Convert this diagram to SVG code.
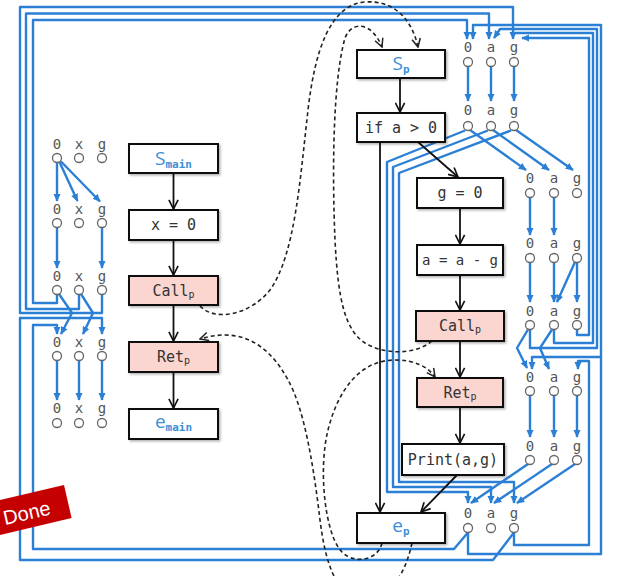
<svg xmlns="http://www.w3.org/2000/svg" width="630" height="576" viewBox="0 0 630 576">
<defs>
<style>
.box{fill:#fff;stroke:#111;stroke-width:2}
.pink{fill:#fbd6d1;stroke:#111;stroke-width:2}
.code{font-family:"DejaVu Sans Mono","Liberation Mono",monospace;font-size:15px;fill:#333;text-anchor:middle}
.sub{font-size:10px}
.big{font-family:"Open Sans","Liberation Sans",sans-serif;font-size:19px;fill:#3b8fd6;text-anchor:middle}
.bsub{font-family:"DejaVu Sans Mono",monospace;font-size:11px;font-weight:bold;fill:#3b8fd6}
.fl{font-family:"DejaVu Sans Mono","Liberation Mono",monospace;font-size:14px;fill:#555;text-anchor:middle}
.fc{fill:#fff;stroke:#666;stroke-width:1.3}
.bl{fill:none;stroke:#2b80d6;stroke-width:2.4;stroke-linejoin:round}
.ba{marker-end:url(#ab)}
.k{fill:none;stroke:#111;stroke-width:1.8;marker-end:url(#ak)}
.dash{fill:none;stroke:#222;stroke-width:1.6;stroke-dasharray:4 3;marker-end:url(#ad)}
</style>
<marker id="ab" viewBox="0 0 10 10" refX="9" refY="5" markerWidth="8" markerHeight="8" markerUnits="userSpaceOnUse" orient="auto"><path d="M0,0.5 L10,5 L0,9.5 z" fill="#2b80d6"/></marker>
<marker id="ak" viewBox="0 0 12 12" refX="11" refY="6" markerWidth="11" markerHeight="11" markerUnits="userSpaceOnUse" orient="auto"><path d="M1,1 L11,6 L1,11" fill="none" stroke="#111" stroke-width="1.8"/></marker>
<marker id="ad" viewBox="0 0 12 12" refX="11" refY="6" markerWidth="10" markerHeight="10" markerUnits="userSpaceOnUse" orient="auto"><path d="M1,1 L11,6 L1,11" fill="none" stroke="#222" stroke-width="1.8"/></marker>
<filter id="sh" x="-10%" y="-20%" width="130%" height="150%"><feDropShadow dx="1.5" dy="1.5" stdDeviation="1" flood-color="#000" flood-opacity="0.3"/></filter>
</defs>
<rect width="630" height="576" fill="#fff"/>

<g id="connectors">
<!-- main blue fact edges -->
<path class="bl ba" d="M57,162.5 V201"/>
<path class="bl ba" d="M59.5,162 L77.5,201"/>
<path class="bl ba" d="M61,161.5 L100,201.5"/>
<path class="bl ba" d="M57,227.5 V268"/>
<path class="bl ba" d="M102,227.5 V268"/>
<path class="bl ba" d="M57,294.5 V303 H33 V20 H467 V39"/>
<path class="bl ba" d="M79,294.5 V309 H26 V13.5 H489 V39"/>
<path class="bl ba" d="M102,294.5 V313 H20 V7 H513 V39"/>
<path class="bl ba" d="M59,294 L72,313 L61,334"/>
<path class="bl ba" d="M81,294 L93,313 L83,334"/>
<path class="bl ba" d="M468,532.5 L454,549 H33 V325 H57 V334"/>
<path class="bl ba" d="M514,532.5 L493,560 H20 V318 H102 V334"/>
<path class="bl ba" d="M57,360.5 V400"/>
<path class="bl ba" d="M79,360.5 V400"/>
<path class="bl ba" d="M102,360.5 V400"/>
<!-- p blue fact edges -->
<path class="bl ba" d="M468,66.5 V101"/>
<path class="bl ba" d="M491,66.5 V101"/>
<path class="bl ba" d="M514,66.5 V101"/>
<path class="bl ba" d="M470,130 L526,170"/>
<path class="bl ba" d="M493,130 L549,170"/>
<path class="bl ba" d="M516,130 L573,170"/>
<path class="bl ba" d="M465,130.5 L387,162 V492 H468 V503"/>
<path class="bl ba" d="M488,130.5 L393,167 V487 H491 V503"/>
<path class="bl ba" d="M511,130.5 L399,173 V482 H514 V503"/>
<path class="bl ba" d="M530,197.5 V235"/>
<path class="bl ba" d="M554,197.5 V235"/>
<path class="bl ba" d="M530,262.5 V302"/>
<path class="bl ba" d="M554,262.5 V302"/>
<path class="bl ba" d="M577,262.5 V302"/>
<path class="bl ba" d="M575,262 L557,302"/>
<path class="bl ba" d="M528,329.5 L517,348 L527,368"/>
<path class="bl ba" d="M552,329.5 L540,348 L549,369"/>
<path class="bl ba" d="M530,329.5 V348 H597 V29 H500 L494,38"/>
<path class="bl" d="M554,329.5 V343 H593 V33 H514"/>
<path class="bl ba" d="M577,329.5 V335 H589 V38 H522"/>
<path class="bl ba" d="M468,532.5 V554 H601 V25 H473 V39"/>
<path class="bl ba" d="M601,357 H532 V369"/>
<path class="bl ba" d="M514,532.5 V545 H589 V361 H578 V369"/>
<path class="bl ba" d="M530,395.5 V437"/>
<path class="bl ba" d="M554,395.5 V437"/>
<path class="bl ba" d="M577,395.5 V437"/>
<path class="bl ba" d="M528,464 L471,503"/>
<path class="bl ba" d="M552,464 L494,503"/>
<path class="bl ba" d="M575,464 L517,503"/>
<!-- black control-flow edges -->
<path class="k" d="M173.5,173 V209"/>
<path class="k" d="M173.5,240 V275"/>
<path class="k" d="M173.5,305 V341"/>
<path class="k" d="M173.5,372 V408"/>
<path class="k" d="M400,78 V112"/>
<path class="k" d="M418,142 L458,177"/>
<path class="k" d="M380,142 V512"/>
<path class="k" d="M460,208 V244"/>
<path class="k" d="M460,275 V310"/>
<path class="k" d="M460,341 V377"/>
<path class="k" d="M460,407 V443"/>
<path class="k" d="M457,475 L421,512"/>
<!-- dashed interprocedural edges -->
<path class="dash" d="M200,306 C215,322 250,315 270,290 C295,255 300,180 308,110 C315,50 330,5 365,2 C395,0 412,20 418,47"/>
<path class="dash" d="M432,341 C415,355 385,355 365,343 C345,330 338,300 335,240 C332,170 333,80 345,38 C352,20 372,22 382,47"/>
<path class="dash" d="M382,543 C378,560 355,565 342,552 C325,535 318,470 328,430 C338,390 360,360 395,360 C415,360 428,367 435,377"/>
<path class="dash" d="M412,543 C405,575 390,600 360,598 C335,595 325,560 320,520 C314,470 305,410 288,380 C272,350 245,325 200,339"/>
</g>

<g id="smain"><rect class="box" filter="url(#sh)" x="129" y="144" width="89" height="29"/><text class="big" x="173.5" y="165">S<tspan class="bsub" dy="3">main</tspan></text></g>
<g id="x0"><rect class="box" filter="url(#sh)" x="129" y="210" width="89" height="30"/><text class="code" x="173.5" y="230">x = 0</text></g>
<g id="callmain"><rect class="pink" filter="url(#sh)" x="129" y="276" width="89" height="29"/><text class="code" x="173.5" y="295.5">Call<tspan class="sub" dy="2">p</tspan></text></g>
<g id="retmain"><rect class="pink" filter="url(#sh)" x="129" y="342" width="89" height="30"/><text class="code" x="173.5" y="362">Ret<tspan class="sub" dy="2">p</tspan></text></g>
<g id="emain"><rect class="box" filter="url(#sh)" x="129" y="409" width="89" height="30"/><text class="big" x="173.5" y="428">e<tspan class="bsub" dy="3">main</tspan></text></g>

<g id="sp"><rect class="box" filter="url(#sh)" x="357" y="50" width="88" height="28"/><text class="big" x="401" y="70">S<tspan class="bsub" dy="3">p</tspan></text></g>
<g id="ifa"><rect class="box" filter="url(#sh)" x="357" y="113" width="88" height="29"/><text class="code" x="401" y="132.5">if a &gt; 0</text></g>
<g id="g0"><rect class="box" filter="url(#sh)" x="417" y="178" width="86" height="30"/><text class="code" x="460" y="198">g = 0</text></g>
<g id="aag"><rect class="box" filter="url(#sh)" x="417" y="245" width="86" height="30"/><text class="code" x="460" y="265" style="font-size:14px">a = a - g</text></g>
<g id="callp"><rect class="pink" filter="url(#sh)" x="416" y="311" width="88" height="30"/><text class="code" x="460" y="331">Call<tspan class="sub" dy="2">p</tspan></text></g>
<g id="retp"><rect class="pink" filter="url(#sh)" x="417" y="378" width="86" height="29"/><text class="code" x="460" y="397.5">Ret<tspan class="sub" dy="2">p</tspan></text></g>
<g id="print"><rect class="box" filter="url(#sh)" x="402" y="444" width="102" height="31"/><text class="code" x="453" y="464.5">Print(a,g)</text></g>
<g id="ep"><rect class="box" filter="url(#sh)" x="357" y="513" width="88" height="30"/><text class="big" x="401" y="532">e<tspan class="bsub" dy="3">p</tspan></text></g>

<g id="facts-main">
<g><text class="fl" x="57" y="148.5">0</text><text class="fl" x="79" y="148.5">x</text><text class="fl" x="102" y="148.5">g</text><circle class="fc" cx="57" cy="158" r="4.5"/><circle class="fc" cx="79" cy="158" r="4.5"/><circle class="fc" cx="102" cy="158" r="4.5"/></g>
<g><text class="fl" x="57" y="213.5">0</text><text class="fl" x="79" y="213.5">x</text><text class="fl" x="102" y="213.5">g</text><circle class="fc" cx="57" cy="223" r="4.5"/><circle class="fc" cx="79" cy="223" r="4.5"/><circle class="fc" cx="102" cy="223" r="4.5"/></g>
<g><text class="fl" x="57" y="280.5">0</text><text class="fl" x="79" y="280.5">x</text><text class="fl" x="102" y="280.5">g</text><circle class="fc" cx="57" cy="290" r="4.5"/><circle class="fc" cx="79" cy="290" r="4.5"/><circle class="fc" cx="102" cy="290" r="4.5"/></g>
<g><text class="fl" x="57" y="346.5">0</text><text class="fl" x="79" y="346.5">x</text><text class="fl" x="102" y="346.5">g</text><circle class="fc" cx="57" cy="356" r="4.5"/><circle class="fc" cx="79" cy="356" r="4.5"/><circle class="fc" cx="102" cy="356" r="4.5"/></g>
<g><text class="fl" x="57" y="412.5">0</text><text class="fl" x="79" y="412.5">x</text><text class="fl" x="102" y="412.5">g</text><circle class="fc" cx="57" cy="423" r="4.5"/><circle class="fc" cx="79" cy="423" r="4.5"/><circle class="fc" cx="102" cy="423" r="4.5"/></g>
</g>

<g id="facts-p">
<g><text class="fl" x="468" y="51.5">0</text><text class="fl" x="491" y="51.5">a</text><text class="fl" x="514" y="51.5">g</text><circle class="fc" cx="468" cy="62" r="4.5"/><circle class="fc" cx="491" cy="62" r="4.5"/><circle class="fc" cx="514" cy="62" r="4.5"/></g>
<g><text class="fl" x="468" y="114.5">0</text><text class="fl" x="491" y="114.5">a</text><text class="fl" x="514" y="114.5">g</text><circle class="fc" cx="468" cy="126" r="4.5"/><circle class="fc" cx="491" cy="126" r="4.5"/><circle class="fc" cx="514" cy="126" r="4.5"/></g>
<g><text class="fl" x="530" y="182.5">0</text><text class="fl" x="554" y="182.5">a</text><text class="fl" x="577" y="182.5">g</text><circle class="fc" cx="530" cy="193" r="4.5"/><circle class="fc" cx="554" cy="193" r="4.5"/><circle class="fc" cx="577" cy="193" r="4.5"/></g>
<g><text class="fl" x="530" y="247.5">0</text><text class="fl" x="554" y="247.5">a</text><text class="fl" x="577" y="247.5">g</text><circle class="fc" cx="530" cy="258" r="4.5"/><circle class="fc" cx="554" cy="258" r="4.5"/><circle class="fc" cx="577" cy="258" r="4.5"/></g>
<g><text class="fl" x="530" y="315.5">0</text><text class="fl" x="554" y="315.5">a</text><text class="fl" x="577" y="315.5">g</text><circle class="fc" cx="530" cy="325" r="4.5"/><circle class="fc" cx="554" cy="325" r="4.5"/><circle class="fc" cx="577" cy="325" r="4.5"/></g>
<g><text class="fl" x="530" y="381.5">0</text><text class="fl" x="554" y="381.5">a</text><text class="fl" x="577" y="381.5">g</text><circle class="fc" cx="530" cy="391" r="4.5"/><circle class="fc" cx="554" cy="391" r="4.5"/><circle class="fc" cx="577" cy="391" r="4.5"/></g>
<g><text class="fl" x="530" y="450.5">0</text><text class="fl" x="554" y="450.5">a</text><text class="fl" x="577" y="450.5">g</text><circle class="fc" cx="530" cy="460" r="4.5"/><circle class="fc" cx="554" cy="460" r="4.5"/><circle class="fc" cx="577" cy="460" r="4.5"/></g>
<g><text class="fl" x="468" y="517.5">0</text><text class="fl" x="491" y="517.5">a</text><text class="fl" x="514" y="517.5">g</text><circle class="fc" cx="468" cy="528" r="4.5"/><circle class="fc" cx="491" cy="528" r="4.5"/><circle class="fc" cx="514" cy="528" r="4.5"/></g>
</g>

<g id="done">
<polygon points="0,500 64,485 71.6,518 0,535" fill="#c40000"/>
<text transform="translate(5,525) rotate(-13)" x="0" y="0" font-family="Liberation Sans, Arial, sans-serif" font-size="20" fill="#fff">Done</text>
</g>
</svg>
